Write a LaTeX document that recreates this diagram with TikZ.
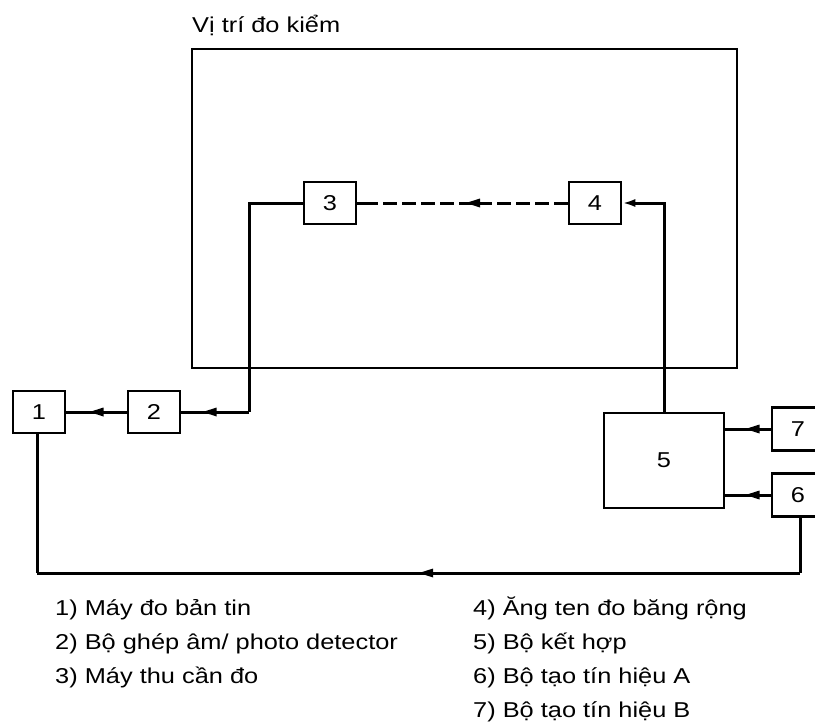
\documentclass[tikz,border=0pt]{standalone}
\usepackage{fontspec}
\usepackage{graphicx}
\setmainfont{Liberation Sans}
\usetikzlibrary{arrows.meta,decorations.markings}
\newcommand{\sx}[1]{\scalebox{1.18}[1]{#1}}
\tikzset{
  lw/.style={line width=3pt},
  bw/.style={line width=2.6pt},
  smallbox/.style={draw, bw, minimum width=52pt, minimum height=42pt, inner sep=0pt, font=\fontsize{21.5}{25}\selectfont},
  txt/.style={anchor=base west, inner sep=0pt, font=\fontsize{21.5}{25}\selectfont},
  tip/.style={-{Latex[length=13pt,width=8pt]}},
  midarrow/.style={postaction={decorate}, decoration={markings, mark=at position #1 with {\fill (7pt,0pt) -- (-7pt,4.5pt) -- (-7pt,-4.5pt) -- cycle;}}},
  midarrow/.default=0.5
}
\begin{document}
\begin{tikzpicture}[x=1pt,y=-1pt]
\useasboundingbox (0,0) rectangle (815,725);
% measurement site
\node[draw, bw, minimum width=545pt, minimum height=319pt, inner sep=0pt] (site) at (464.5,208.5) {};
\node[txt] (title) at (192,33) {\sx{Vị trí đo kiểm}};
% boxes
\node[smallbox] (n1) at (39,412) {\sx{1}};
\node[smallbox] (n2) at (154,412) {\sx{2}};
\node[smallbox] (n3) at (330,203) {\sx{3}};
\node[smallbox] (n4) at (595,203) {\sx{4}};
\node[smallbox, minimum width=120pt, minimum height=95pt] (n5) at (664,460.5) {\sx{5}};
\node[smallbox, minimum width=60pt, minimum height=43pt] (n7) at (802,429) {\hspace*{-8pt}\sx{7}};
\node[smallbox, minimum width=60pt, minimum height=43pt] (n6) at (802,495) {\hspace*{-8pt}\sx{6}};
% corner points
\coordinate (c32) at (249,412);
\coordinate (b6) at (800,573);
\coordinate (b1) at (37,573);
% connectors
\draw[lw, dash pattern=on 14pt off 5pt, midarrow=0.45] (n4.west) -- (n3.east);
\draw[lw] (n3.east) -- ++(20,0);
\draw[lw] (n3.west) -| (c32);
\draw[lw, midarrow=0.58] (c32) -- (n2.east);
\draw[lw, midarrow=0.5] (n2.west) -- (n1.east);
\draw[lw, tip] (n5.north) |- (n4.east);
\draw[lw, midarrow=0.4] (n7.west) -- (n7.west -| n5.east);
\draw[lw, midarrow=0.4] (n6.west) -- (n6.west -| n5.east);
\draw[lw] (b6 |- n6.south) -- (b6);
\draw[lw, midarrow=0.49] (b6) -- (b1);
\draw[lw] (b1) -- (b1 |- n1.south);
% legend
\node[txt] (l1) at (55,615) {\sx{1) Máy đo bản tin}};
\node[txt] (l2) at (55,649) {\sx{2) Bộ ghép âm/ photo detector}};
\node[txt] (l3) at (55,683) {\sx{3) Máy thu cần đo}};
\node[txt] (l4) at (473,615) {\sx{4) Ăng ten đo băng rộng}};
\node[txt] (l5) at (473,649) {\sx{5) Bộ kết hợp}};
\node[txt] (l6) at (473,683) {\sx{6) Bộ tạo tín hiệu A}};
\node[txt] (l7) at (473,717) {\sx{7) Bộ tạo tín hiệu B}};
\end{tikzpicture}
\end{document}
